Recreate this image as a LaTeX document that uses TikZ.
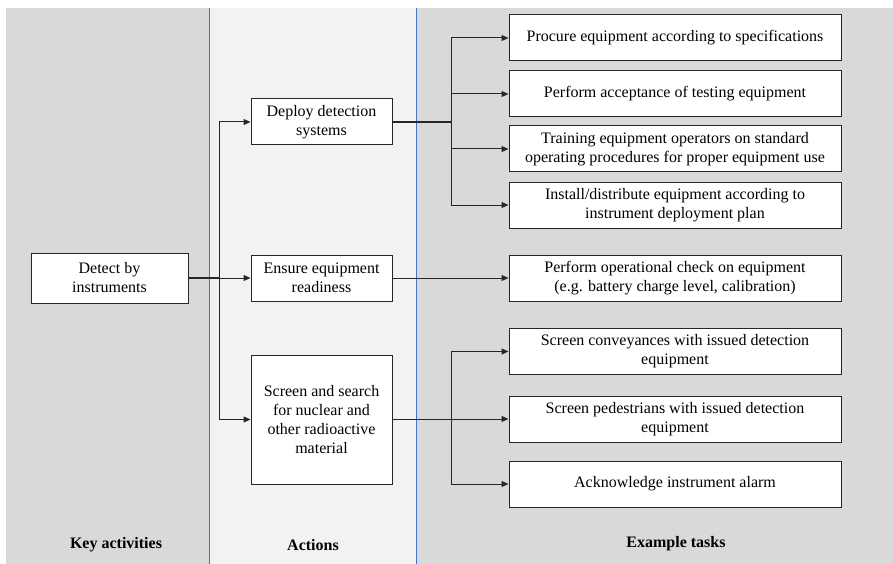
\documentclass[tikz,border=0pt]{standalone}
\usepackage{fontspec}
\setmainfont{Liberation Serif}
\usetikzlibrary{arrows.meta}
\definecolor{darkcol}{HTML}{D9D9D9}
\definecolor{lightcol}{HTML}{F2F2F2}
\definecolor{divider}{HTML}{4472C4}
\tikzset{
  box/.style={draw=black!85, line width=1pt, fill=white, align=center, inner sep=0pt,
    font=\fontsize{16}{19}\selectfont},
  conn/.style={line width=1pt, black!85},
  arr/.style={conn, -{Triangle[length=7pt,width=6pt]}},
  heading/.style={font=\fontsize{16}{19}\selectfont\bfseries, anchor=center},
}
\begin{document}
\begin{tikzpicture}[x=1pt,y=-1pt]
\useasboundingbox (0,0) rectangle (893,564);
\fill[white] (0,0) rectangle (893,564);
\fill[darkcol] (6,8) rectangle (893,564);
\fill[lightcol] (209,8) rectangle (416,564);
\draw[divider, line width=0.9pt] (209,8) -- (209,564);
\draw[divider, line width=0.9pt] (416,8) -- (416,564);

% headings
\node[heading] (hk) at (116,545) {Key activities};
\node[heading] (ha) at (313,545) {Actions};
\node[heading] (he) at (676,544) {Example tasks};

% key activity
\node[box, minimum width=157pt, minimum height=50pt] (detect) at (109.5,278) {Detect by\\instruments};

% actions
\node[box, minimum width=141pt, minimum height=46pt] (deploy) at (321.5,122) {Deploy detection\\systems};
\node[box, minimum width=141pt, minimum height=46pt] (ensure) at (321.5,278) {Ensure equipment\\readiness};
\node[box, minimum width=141pt, minimum height=129pt] (screen) at (321.5,419.5) {Screen and search\\for nuclear and\\other radioactive\\material};

% tasks
\foreach \n/\y/\t in {
  t1/38/{Procure equipment according to specifications},
  t2/94/{Perform acceptance of testing equipment},
  t3/149/{Training equipment operators on standard\\operating procedures for proper equipment use},
  t4/205/{Install/distribute equipment according to\\instrument deployment plan},
  t5/278/{Perform operational check on equipment\\(e.g. battery charge level, calibration)},
  t6/351.5/{Screen conveyances with issued detection\\equipment},
  t7/419/{Screen pedestrians with issued detection\\equipment},
  t8/484/{Acknowledge instrument alarm}}
  \node[box, minimum width=332pt, minimum height=46pt] (\n) at (675,\y) {\t};

% connectors from key activity
\coordinate (ka) at (219,278);
\draw[conn, line width=1.6pt] (detect.east) -- (ka);
\draw[conn] (ka |- deploy.west) -- (ka |- screen.west);
\draw[arr] (ka |- deploy.west) -- (deploy.west);
\draw[arr] (ka) -- (ensure.west);
\draw[arr] (ka |- screen.west) -- (screen.west);

% deploy branch
\coordinate (bd) at (451,122);
\draw[conn, line width=1.6pt] (deploy.east) -- (bd);
\draw[conn] (bd |- t1.west) -- (bd |- t4.west);
\foreach \n in {t1,t2,t3,t4} \draw[arr] (bd |- \n.west) -- (\n.west);

% ensure
\draw[arr] (ensure.east) -- (t5.west);

% screen branch
\coordinate (bs) at (451,419.5);
\draw[conn] (screen.east) -- (bs);
\draw[conn] (bs |- t6.west) -- (bs |- t8.west);
\foreach \n in {t6,t7,t8} \draw[arr] (bs |- \n.west) -- (\n.west);
\end{tikzpicture}
\end{document}
